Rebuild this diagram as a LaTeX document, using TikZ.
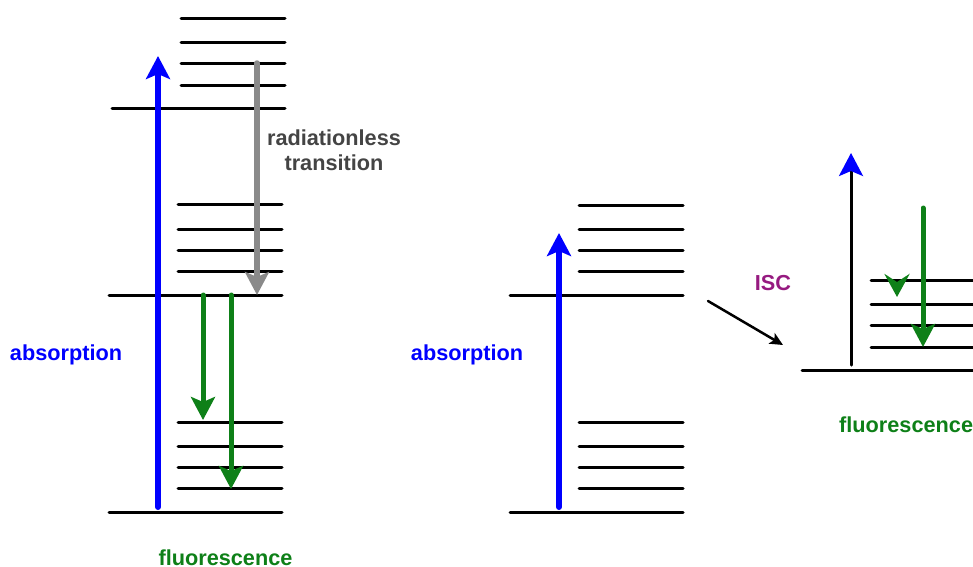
\documentclass[tikz,border=0pt]{standalone}
\usepackage{fontspec}
\setmainfont{Liberation Sans}
\usetikzlibrary{arrows.meta}
\definecolor{absblue}{RGB}{0,0,255}
\definecolor{fluogreen}{RGB}{14,128,24}
\definecolor{rlgray}{RGB}{138,138,138}
\definecolor{rltext}{RGB}{68,68,68}
\definecolor{iscpurple}{RGB}{150,26,128}
\begin{document}
\begin{tikzpicture}[x=1pt,y=-1pt,
  level/.style={line width=3pt, line cap=round},
  bighead/.style={-{Stealth[length=23pt,width=24pt,inset=5pt]}},
  absarrow/.style={bighead, absblue, line width=6pt, line cap=round},
  fluoarrow/.style={bighead, fluogreen, line width=5pt, line cap=round},
  rlarrow/.style={bighead, rlgray, line width=5.5pt, line cap=round},
  iscarrow/.style={-{Stealth[length=13pt,width=12pt,inset=3pt]}, black, line width=2.5pt, line cap=round},
  label/.style={inner sep=0pt, font=\bfseries\fontsize{21.7}{26}\selectfont}]
\useasboundingbox (0,0) rectangle (973,566);

% ---------- singlet scheme with radiationless transition ----------
\foreach \y in {18,42,63,85} \draw[level] (181,\y) -- (285,\y);
\draw[level] (112,108) -- (285,108);
\foreach \y in {204,229,250,271} \draw[level] (178,\y) -- (282,\y);
\draw[level] (109,295) -- (282,295);
\foreach \y in {422,446,467,488} \draw[level] (178,\y) -- (282,\y);
\draw[level] (109,512) -- (282,512);

\coordinate (a1s) at (158,507);  \coordinate (a1e) at (158,56);
\coordinate (r1s) at (257,63);   \coordinate (r1e) at (257,295);
\coordinate (f1s) at (203,295);  \coordinate (f1e) at (203,420);
\coordinate (f2s) at (231,295);  \coordinate (f2e) at (231,489);

\draw[absarrow] (a1s) -- (a1e);
\draw[rlarrow] (r1s) -- (r1e);
\draw[fluoarrow] (f1s) -- (f1e);
\draw[fluoarrow] (f2s) -- (f2e);

\node[label, rltext] (rl1) at (334,138) {radiationless};
\node[label, rltext] (rl2) at (334,163) {transition};
\node[label, absblue] (ab1) at (66,355) {absorption};
\node[label, fluogreen] (fl1) at (225.5,557.5) {fluorescence};

% ---------- singlet scheme, absorption only ----------
\foreach \y in {205,229,250,271} \draw[level] (579,\y) -- (683,\y);
\draw[level] (510,295) -- (683,295);
\foreach \y in {422,446,467,488} \draw[level] (579,\y) -- (683,\y);
\draw[level] (510,512) -- (683,512);

\coordinate (a2s) at (559,507);  \coordinate (a2e) at (559,233);
\draw[absarrow] (a2s) -- (a2e);
\node[label, absblue] (ab2) at (467,355) {absorption};

% ---------- intersystem crossing into the triplet ----------
\coordinate (iscs) at (708,301); \coordinate (isce) at (783,345);
\draw[iscarrow] (iscs) -- (isce);
\node[label, iscpurple] (isc) at (773,283) {ISC};

\draw[level] (802,370) -- (976,370);
\foreach \y in {280,304,325,347} \draw[level] (871,\y) -- (976,\y);

\coordinate (t1s) at (851,365);  \coordinate (t1e) at (851,153);
\draw[-{Stealth[length=23pt,width=24pt,inset=5pt,color=absblue]}, black, line width=3pt, line cap=round] (t1s) -- (t1e);

\coordinate (f3s) at (923,208);  \coordinate (f3e) at (923,347);
\draw[fluoarrow] (f3s) -- (f3e);
\coordinate (f4s) at (897,283);  \coordinate (f4e) at (897,297);
\draw[-{Stealth[length=23pt,width=25pt,inset=8pt]}, fluogreen, line width=5pt, line cap=butt] (f4s) -- (f4e);

\node[label, fluogreen, anchor=west] (fl2) at (839,425) {fluorescence};
\end{tikzpicture}
\end{document}
